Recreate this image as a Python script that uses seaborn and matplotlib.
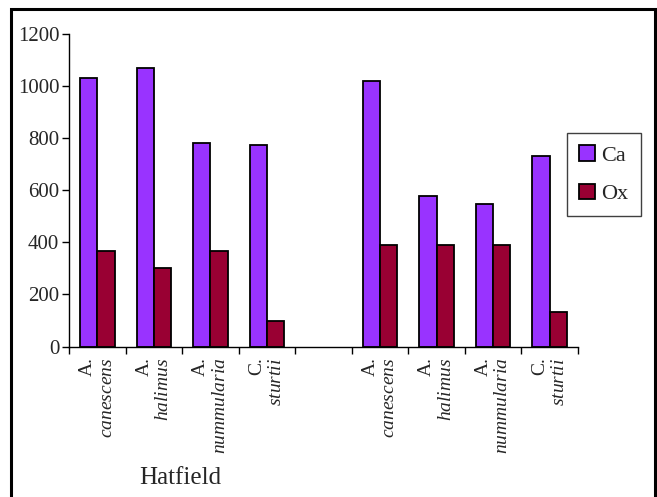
import matplotlib
matplotlib.use("Agg")
import matplotlib.pyplot as plt
import matplotlib.patches as mpatches
import seaborn as sns
import pandas as pd
import numpy as np

# ---- data ----
genus = ["A.", "A.", "A.", "C."]
species = ["canescens", "halimus", "nummularia", "sturtii"]
ca_hatfield = [1030, 1071, 782, 773]
ox_hatfield = [365, 300, 365, 98]
ca_site2 = [1019, 579, 547, 731]
ox_site2 = [388, 388, 388, 132]
series = ["Ca", "Ox"]
colors = ["#9933FF", "#990033"]
yticks = [0, 200, 400, 600, 800, 1000, 1200]

# ---- build table ----
keys_h = [f"H{i}" for i in range(4)]
keys_s = [f"S{i}" for i in range(4)]
order = keys_h + ["gap"] + keys_s
rows = []
for k, c, o in zip(keys_h, ca_hatfield, ox_hatfield):
    rows.append((k, "Ca", c)); rows.append((k, "Ox", o))
for k, c, o in zip(keys_s, ca_site2, ox_site2):
    rows.append((k, "Ca", c)); rows.append((k, "Ox", o))
df = pd.DataFrame(rows, columns=["cat", "ion", "value"])

sns.set_style("white")
plt.rcParams["font.family"] = ["Liberation Serif", "DejaVu Serif"]
plt.rcParams["mathtext.fontset"] = "custom"
plt.rcParams["mathtext.rm"] = "Liberation Serif"
plt.rcParams["mathtext.it"] = "Liberation Serif:italic"

fig = plt.figure(figsize=(6.57, 4.97), dpi=100)
ax = fig.add_axes([69/657, 1-346.5/497, (578-69)/657, (346.5-34)/497])

sns.barplot(data=df, x="cat", y="value", hue="ion", order=order,
            hue_order=series, palette=colors, width=0.61, gap=0,
            edgecolor="black", linewidth=1.3, saturation=1, ax=ax,
            errorbar=None)

ax.set_ylim(0, 1200)
ax.set_xlim(-0.5, 8.5)
ax.set_yticks(yticks)
ax.set_yticklabels([str(v) for v in yticks], fontsize=15)
ax.set_xlabel("")
ax.set_ylabel("")

labels = [f"{g}\n$\\mathit{{{s}}}$" for g, s in zip(genus, species)]
ax.set_xticks(list(range(4)) + list(range(5, 9)))
ax.set_xticklabels(labels + labels, rotation=90, fontsize=14)
for lab in ax.get_xticklabels():
    lab.set_multialignment("right")
ax.set_xticks(np.arange(-0.5, 9.0, 1.0), minor=True)
ax.tick_params(axis="x", which="major", length=0, pad=8)
ax.tick_params(axis="x", which="minor", length=5, width=1, color="black",
               direction="out", bottom=True)
ax.tick_params(axis="y", length=5, width=1, color="black", direction="out",
               left=True, pad=2)

for side in ["top", "right"]:
    ax.spines[side].set_visible(False)
for side in ["left", "bottom"]:
    ax.spines[side].set_color("black")
    ax.spines[side].set_linewidth(1)

# legend
handles = [mpatches.Patch(facecolor=c, edgecolor="black", linewidth=1.3, label=s)
           for c, s in zip(colors, series)]
leg = ax.legend(handles=handles, loc="upper left",
                bbox_to_anchor=(0.978, 0.683), fontsize=16,
                frameon=True, fancybox=False, framealpha=1,
                handlelength=0.7, handleheight=0.7, handletextpad=0.3,
                borderpad=0.55, labelspacing=0.8, borderaxespad=0)
leg.get_frame().set_edgecolor("#404040")
leg.get_frame().set_linewidth(1)
leg._legend_box.sep = 0

fig.text(180/657, 1-478/497, "Hatfield", ha="center", va="center", fontsize=18)

border = mpatches.Rectangle((11/657, -0.01), (655-11)/657, (1-9/497)+0.01,
                            transform=fig.transFigure, fill=False,
                            edgecolor="black", linewidth=2.2, clip_on=False)
fig.add_artist(border)

fig.savefig("out.png", dpi=100)
